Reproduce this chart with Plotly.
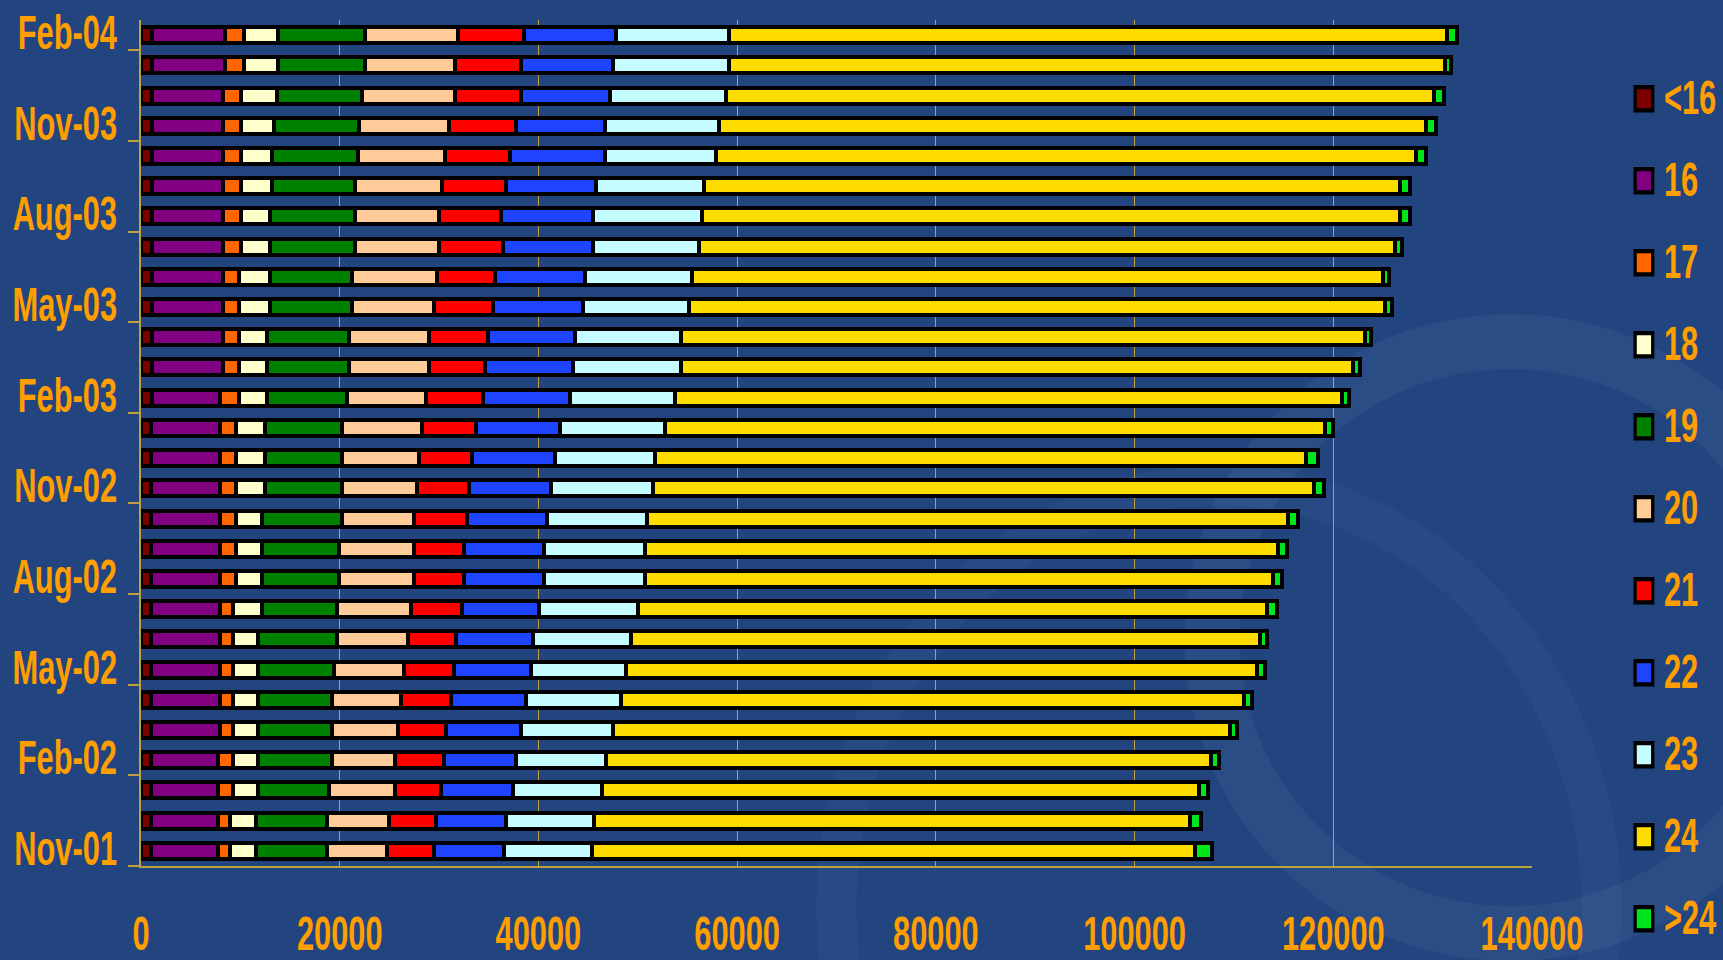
import plotly.graph_objects as go

months = ["Nov-01", "Dec-01", "Jan-02", "Feb-02", "Mar-02", "Apr-02", "May-02",
          "Jun-02", "Jul-02", "Aug-02", "Sep-02", "Oct-02", "Nov-02", "Dec-02",
          "Jan-03", "Feb-03", "Mar-03", "Apr-03", "May-03", "Jun-03", "Jul-03",
          "Aug-03", "Sep-03", "Oct-03", "Nov-03", "Dec-03", "Jan-04", "Feb-04"]

series_names = ["<16", "16", "17", "18", "19", "20", "21", "22", "23", "24", ">24"]

v_lt16 = [1000, 1000, 1000, 1000, 1000, 1000, 1000, 1000, 1050, 1050, 1050, 1050, 1050, 1050,
          1050, 1100, 1100, 1100, 1100, 1100, 1100, 1100, 1100, 1100, 1100, 1100, 1100, 1100]
v_16 = [6750, 6750, 6750, 6750, 7000, 7000, 7000, 7000, 6950, 6950, 6950, 6950, 6950, 6950,
        6950, 6900, 7150, 7150, 7150, 7150, 7150, 7150, 7150, 7150, 7150, 7150, 7400, 7400]
v_17 = [1250, 1250, 1500, 1500, 1250, 1250, 1250, 1250, 1250, 1550, 1550, 1550, 1550, 1550,
        1550, 1850, 1600, 1600, 1600, 1600, 1850, 1850, 1850, 1850, 1850, 1850, 1850, 1900]
v_18 = [2600, 2600, 2550, 2550, 2550, 2550, 2550, 2550, 2950, 2650, 2650, 2650, 2900, 2900,
        2900, 2800, 2800, 2800, 3100, 3100, 2850, 2850, 3050, 3050, 3300, 3600, 3450, 3400]
v_19 = [7100, 7100, 7100, 7400, 7400, 7400, 7600, 7900, 7500, 7750, 7750, 8000, 7750, 7750,
        7750, 8050, 8300, 8300, 8250, 8250, 8550, 8550, 8350, 8650, 8550, 8550, 8750, 8750]
v_20 = [6100, 6300, 6700, 6400, 6650, 6950, 7050, 7200, 7500, 7500, 7500, 7250, 7550, 7750,
        8050, 8000, 8050, 8050, 8300, 8550, 8500, 8500, 8800, 8750, 9050, 9350, 9050, 9350]
v_21 = [4650, 4700, 4600, 4900, 4850, 5100, 5100, 4800, 5100, 5100, 5100, 5400, 5250, 5350,
        5450, 5700, 5650, 5900, 5900, 5850, 6450, 6200, 6450, 6550, 6700, 6600, 6600, 6600]
v_22 = [7050, 7050, 7200, 7200, 7500, 7500, 7750, 7800, 7800, 8050, 8050, 8000, 8300, 8400,
        8450, 8800, 8800, 8800, 9050, 9100, 9050, 9300, 9000, 9650, 9050, 9050, 9350, 9300]
v_23 = [8900, 8850, 9000, 9100, 9300, 9550, 9500, 9800, 9900, 10100, 10100, 10050, 10200, 10000,
        10550, 10500, 10850, 10600, 10750, 10800, 10700, 11000, 10950, 11150, 11450, 11650, 11650, 11400]
v_24 = [60720, 60000, 60120, 60850, 62070, 62730, 63530, 63330, 63330, 63210, 63710, 64510, 66520, 65520,
        66420, 67130, 67660, 68850, 70020, 69460, 70030, 70220, 70020, 70420, 71120, 71220, 72020, 72250]
v_gt24 = [1670, 1100, 900, 880, 770, 770, 800, 660, 1000, 930, 970, 1000, 1000, 1200,
          900, 770, 760, 670, 660, 670, 720, 1000, 1000, 970, 1000, 1000, 660, 1000]

series_values = [v_lt16, v_16, v_17, v_18, v_19, v_20, v_21, v_22, v_23, v_24, v_gt24]
series_colors = ["#7a0000", "#800080", "#ff6600", "#ffffcc", "#008000", "#ffcc99",
                 "#ff0000", "#1f44ff", "#c4fcff", "#ffdc00", "#00e51c"]

x_ticks = [0, 20000, 40000, 60000, 80000, 100000, 120000, 140000]

ORANGE = "#ff9e00"
GOLD = "#bfa040"
FONT = "Liberation Sans, Arial, sans-serif"

fig = go.Figure()

for name, vals, col in zip(series_names, series_values, series_colors):
    fig.add_trace(go.Bar(
        y=months, x=vals, name=name, orientation="h",
        marker=dict(color=col, line=dict(color="#000000", width=4)),
        showlegend=False, hoverinfo="x+y+name",
    ))

# legend entries (square swatches)
for name, col in zip(series_names, series_colors):
    fig.add_trace(go.Scatter(
        x=[None], y=[None], mode="markers", name=name, legendgroup=name,
        marker=dict(symbol="square", size=16, color=col,
                    line=dict(color="#000000", width=3)),
        showlegend=True,
    ))

# faint background swirl (decoration)
fig.add_shape(type="circle", xref="paper", yref="paper", layer="below",
              x0=0.77, x1=1.20, y0=-0.08, y1=0.62,
              line=dict(color="rgba(150,180,230,0.07)", width=55))
fig.add_shape(type="circle", xref="paper", yref="paper", layer="below",
              x0=0.50, x1=1.05, y0=-0.55, y1=0.45,
              line=dict(color="rgba(150,180,230,0.05)", width=40))

fig.update_layout(
    width=1723, height=960,
    barmode="stack", bargap=0.47,
    paper_bgcolor="#22457f", plot_bgcolor="rgba(0,0,0,0)",
    margin=dict(l=141, r=191, t=20, b=94, autoexpand=False),
    font=dict(family=FONT, color=ORANGE, size=40, weight="bold"),
    legend=dict(
        xref="container", yref="container",
        x=0.9425, y=0.931, xanchor="left", yanchor="top",
        bgcolor="rgba(0,0,0,0)", borderwidth=0,
        font=dict(family=FONT, color=ORANGE, size=40, weight="bold"),
        tracegroupgap=27, itemsizing="trace",
        traceorder="grouped",
    ),
    xaxis=dict(
        range=[0, 140000], tickmode="array", tickvals=x_ticks,
        ticktext=[str(v) for v in x_ticks],
        showgrid=True, gridcolor=GOLD, gridwidth=1,
        showline=True, linecolor=GOLD, linewidth=2,
        zeroline=False, ticks="", ticklabelstandoff=34,
        tickfont=dict(family=FONT, color=ORANGE, size=40, weight="bold"),
    ),
    yaxis=dict(
        type="category", categoryorder="array", categoryarray=months,
        range=[-0.5, 27.5],
        tickmode="linear", tick0=0, dtick=3, tickson="boundaries",
        ticks="outside", ticklen=11, tickcolor=GOLD, tickwidth=2,
        showline=True, linecolor=GOLD, linewidth=2,
        showgrid=False, zeroline=False, ticklabelstandoff=14,
        tickfont=dict(family=FONT, color=ORANGE, size=40, weight="bold"),
    ),
)

try:
    fig.update_layout(legend_maxheight=960)
except Exception:
    pass

post = """
document.body.style.margin='0';
document.body.style.overflow='hidden';
var gd = document.getElementById('{plot_id}');
function stretchText(){
  var sel = gd.querySelectorAll('.xtick text, .ytick text, .legendtext');
  sel.forEach(function(t){
    var cur = t.getAttribute('transform') || '';
    if (t.__applied === cur) return;
    var x = parseFloat(t.getAttribute('x')) || 0;
    var y = parseFloat(t.getAttribute('y')) || 0;
    var nt = cur + ' translate(' + x + ',' + y + ') scale(0.77,1.19) translate(' + (-x) + ',' + (-y) + ')';
    t.setAttribute('transform', nt);
    t.__applied = nt;
  });
  var pts = gd.querySelectorAll('.legendpoints path.scatterpts');
  pts.forEach(function(p){
    var cur = p.getAttribute('transform') || '';
    if (p.__applied === cur) return;
    var nt = cur + ' scale(1.1,1.45)';
    p.setAttribute('transform', nt);
    p.__applied = nt;
  });
}
stretchText();
gd.on('plotly_afterplot', stretchText);
setTimeout(stretchText, 50);
setTimeout(stretchText, 300);
"""

fig.write_html("out.html", post_script=post,
               config={"displayModeBar": False, "responsive": False})
